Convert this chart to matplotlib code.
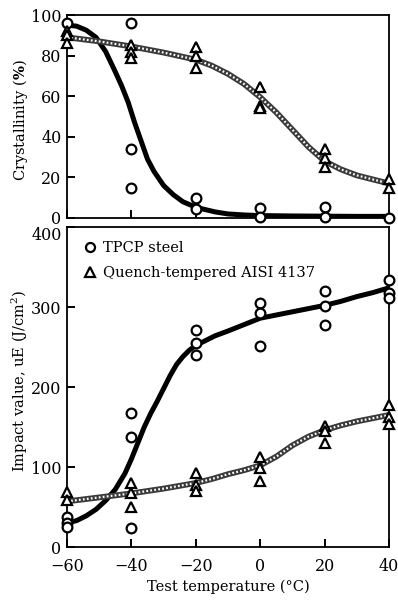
import matplotlib
matplotlib.use("Agg")
import matplotlib.pyplot as plt
from matplotlib.lines import Line2D

plt.rcParams['font.family'] = ['DejaVu Serif']
plt.rcParams['mathtext.fontset'] = 'dejavuserif'

# ---------------- data ----------------
# Crystallinity (%) - scatter points
tpcp_cr_t = [-60, -40, -40, -40, -20, -20, 0, 0, 20, 20, 40]
tpcp_cr_v = [96, 96, 34, 15, 10, 4.5, 5, 0.5, 5.5, 0.5, 0]
qt_cr_t = [-60, -60, -60, -40, -40, -40, -20, -20, -20, 0, 0, 0, 20, 20, 20, 40, 40]
qt_cr_v = [92, 90, 86, 85, 82, 79, 84, 80, 74, 64.5, 55, 54, 34, 29.5, 25, 19, 15]

# Crystallinity fitted curves
tpcp_cr_curve_t = [-60, -57, -54, -51, -48, -45, -43, -41, -39, -37, -35, -33, -30, -27, -24, -21, -18, -14, -10, -5, 0, 10, 20, 30, 40]
tpcp_cr_curve_v = [95, 94.5, 92.5, 89, 82, 72, 65, 57, 47, 38, 29, 23, 16, 11.5, 8, 6, 4.5, 3, 2, 1.5, 1.2, 1, 0.9, 0.8, 0.8]
qt_cr_curve_t = [-60, -50, -40, -30, -20, -15, -10, -5, 0, 5, 10, 15, 20, 25, 30, 35, 40]
qt_cr_curve_v = [89, 87, 84.5, 81.5, 78, 75, 71, 66, 59.5, 52, 43.5, 35, 28, 24, 21, 19, 17]

# Impact value (J/cm2) - scatter points
tpcp_iv_t = [-60, -60, -60, -40, -40, -40, -20, -20, -20, 0, 0, 0, 20, 20, 20, 40, 40, 40]
tpcp_iv_v = [38, 30, 25, 167, 138, 24, 271, 255, 240, 305, 292, 251, 320, 301, 277, 334, 317, 311]
qt_iv_t = [-60, -60, -40, -40, -40, -20, -20, -20, 0, 0, 0, 20, 20, 20, 40, 40, 40]
qt_iv_v = [69, 59, 80, 67, 50, 92, 78, 70, 112, 99, 82, 151, 145, 130, 178, 163, 154]

# Impact value fitted curves
tpcp_iv_curve_t = [-60, -57, -54, -51, -48, -45, -42, -40, -38, -36, -34, -32, -30, -28, -26, -24, -22, -20, -17, -14, -10, -5, 0, 5, 10, 15, 20, 25, 30, 35, 40]
tpcp_iv_curve_v = [30, 33, 39, 47, 58, 72, 92, 110, 130, 150, 167, 182, 198, 214, 228, 238, 246, 252, 258, 264, 270, 278, 286, 290, 294, 298, 302, 307, 313, 318, 324]
qt_iv_curve_t = [-60, -50, -40, -30, -20, -15, -10, -5, 0, 5, 10, 15, 20, 25, 30, 35, 40]
qt_iv_curve_v = [57, 62, 67, 73, 80, 85, 91, 96, 102, 113, 127, 138, 146, 152, 157, 161, 165]

x_ticks = [-60, -40, -20, 0, 20, 40]
cr_ticks = [0, 20, 40, 60, 80, 100]
iv_ticks = [0, 100, 200, 300, 400]

# ---------------- style ----------------
FS = 11.5     # tick labels
LFS = 10.5    # axis labels & legend
W, H = 398, 600
fig = plt.figure(figsize=(W / 100, H / 100), dpi=100)
ax1 = fig.add_axes([67 / W, 1 - 218 / H, 322 / W, 203 / H])
ax2 = fig.add_axes([67 / W, 1 - 547 / H, 322 / W, 320 / H])

mk = dict(linestyle='none', markerfacecolor='white', markeredgecolor='black',
          markeredgewidth=1.6, markersize=7, clip_on=False, zorder=5)


def rope(ax, t, v):
    ax.plot(t, v, color='#3a3a3a', lw=4.2, solid_capstyle='butt', zorder=3)
    ax.plot(t, v, color='white', lw=1.6, linestyle=(0, (0.8, 1.0)), zorder=4)


def style(ax, yticks, ylim):
    ax.set_xlim(-60, 40)
    ax.set_ylim(*ylim)
    ax.set_xticks(x_ticks)
    ax.set_yticks(yticks)
    ax.tick_params(direction='in', length=6, width=1.4, labelsize=FS, pad=4)
    ax.tick_params(axis='x', pad=8)
    for s in ax.spines.values():
        s.set_linewidth(1.3)


# top panel
ax1.plot(tpcp_cr_curve_t, tpcp_cr_curve_v, color='black', lw=3.6,
         solid_joinstyle='round', solid_capstyle='round', zorder=3)
rope(ax1, qt_cr_curve_t, qt_cr_curve_v)
ax1.plot(tpcp_cr_t, tpcp_cr_v, marker='o', **mk)
ax1.plot(qt_cr_t, qt_cr_v, marker='^', **mk)
style(ax1, cr_ticks, (0, 100))
ax1.set_xticklabels([])
ax1.set_ylabel(r'Crystallinity ($\mathbf{\%}$)', fontsize=LFS)
ax1.yaxis.set_label_coords(-0.115, 0.48)

# bottom panel
ax2.plot(tpcp_iv_curve_t, tpcp_iv_curve_v, color='black', lw=3.6,
         solid_joinstyle='round', solid_capstyle='round', zorder=3)
rope(ax2, qt_iv_curve_t, qt_iv_curve_v)
ax2.plot(tpcp_iv_t, tpcp_iv_v, marker='o', **mk)
ax2.plot(qt_iv_t, qt_iv_v, marker='^', **mk)
style(ax2, iv_ticks, (0, 400))
ax2.set_xticklabels([f'\u2212{-t}' if t < 0 else str(t) for t in x_ticks])
ax2.set_ylabel(r'Impact value, uE (J/cm$^2$)', fontsize=LFS)
ax2.yaxis.set_label_coords(-0.115, 0.52)
ax2.set_xlabel('Test temperature (\u00b0C)', fontsize=LFS, va='top')
ax2.xaxis.set_label_coords(0.5, -0.103)
ax2.get_yticklabels()[-1].set_va('top')

handles = [
    Line2D([], [], marker='o', linestyle='none', markerfacecolor='white',
           markeredgecolor='black', markeredgewidth=1.6, markersize=6.5),
    Line2D([], [], marker='^', linestyle='none', markerfacecolor='white',
           markeredgecolor='black', markeredgewidth=1.6, markersize=6.5),
]
ax2.legend(handles, ['TPCP steel', 'Quench-tempered AISI 4137'], loc='upper left',
           frameon=False, fontsize=LFS, handlelength=0.8, handletextpad=0.5,
           labelspacing=0.75, borderaxespad=0.0, bbox_to_anchor=(0.035, 0.975))

fig.savefig('out.png', dpi=100)
